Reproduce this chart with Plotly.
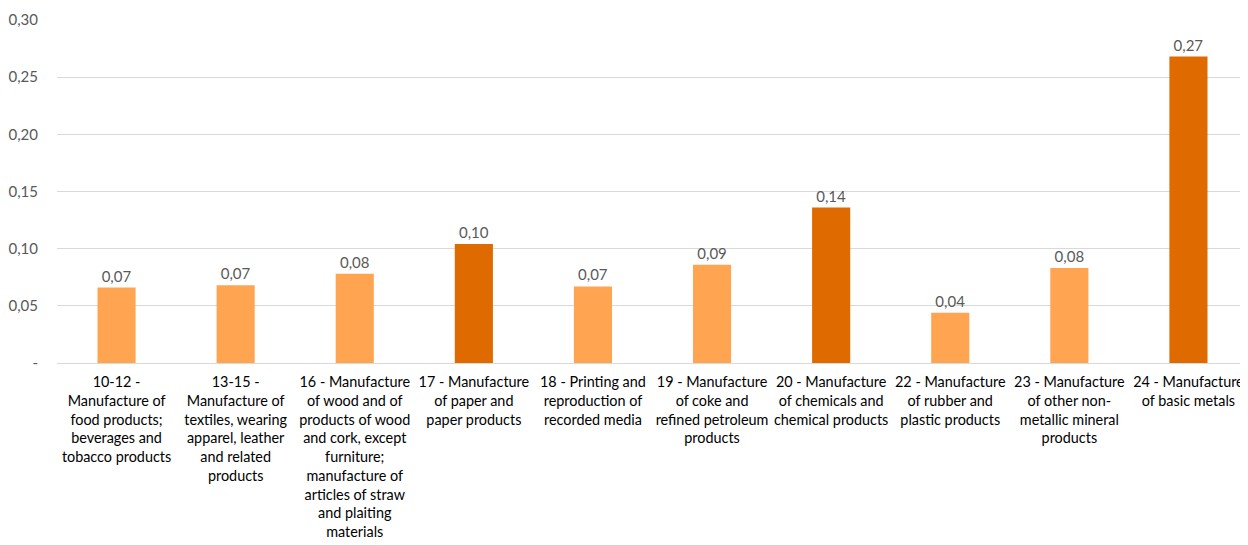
import plotly.graph_objects as go

categories = [
    "10-12 -<br>Manufacture of<br>food products;<br>beverages and<br>tobacco products",
    "13-15 -<br>Manufacture of<br>textiles, wearing<br>apparel, leather<br>and related<br>products",
    "16 - Manufacture<br>of wood and of<br>products of wood<br>and cork, except<br>furniture;<br>manufacture of<br>articles of straw<br>and plaiting<br>materials",
    "17 - Manufacture<br>of paper and<br>paper products",
    "18 - Printing and<br>reproduction of<br>recorded media",
    "19 - Manufacture<br>of coke and<br>refined petroleum<br>products",
    "20 - Manufacture<br>of chemicals and<br>chemical products",
    "22 - Manufacture<br>of rubber and<br>plastic products",
    "23 - Manufacture<br>of other non-<br>metallic mineral<br>products",
    "24 - Manufacture<br>of basic metals",
]
values = [0.066, 0.068, 0.078, 0.104, 0.067, 0.086, 0.136, 0.044, 0.083, 0.268]
highlight = [False, False, False, True, False, False, True, False, False, True]

light = "#FFA552"
dark = "#DE6A00"
colors = [dark if h else light for h in highlight]

ytick_vals = [0, 0.05, 0.10, 0.15, 0.20, 0.25, 0.30]
ytick_text = ["-", "0,05", "0,10", "0,15", "0,20", "0,25", "0,30"]

font_family = "Lato, 'Open Sans', sans-serif"

fig = go.Figure(go.Bar(
    x=list(range(len(categories))),
    y=values,
    marker=dict(color=colors, line=dict(width=0)),
    texttemplate="%{y:.2f}",
    textposition="outside",
    textfont=dict(color="#595959", size=15, family=font_family),
    cliponaxis=False,
))

# the page body has an 8px default margin: shrink the figure so it fits the
# window and the plot area lands where it does in the reference
fig.update_layout(
    width=1240, height=537,
    margin=dict(l=49, r=0, t=12, b=182, autoexpand=False),
    plot_bgcolor="white", paper_bgcolor="white",
    separators=",.",
    bargap=0.68,
    showlegend=False,
    font=dict(family=font_family, size=15, color="#000000"),
)
fig.update_xaxes(
    tickvals=list(range(len(categories))),
    ticktext=categories,
    tickangle=0,
    range=[-0.5, len(categories) - 0.5],
    showgrid=False,
    showline=True, linecolor="#D9D9D9", linewidth=1,
    ticks="",
    automargin=False,
    ticklabelstandoff=6,
    tickfont=dict(size=14.4, color="#000000"),
)
fig.update_yaxes(
    range=[0, 0.30],
    tickvals=ytick_vals,
    ticktext=ytick_text,
    showgrid=True, gridcolor="#D9D9D9", gridwidth=1,
    zeroline=False,
    ticks="",
    automargin=False,
    ticklabelstandoff=18,
    tickfont=dict(size=15, color="#595959"),
)

fig.write_html("out.html")
